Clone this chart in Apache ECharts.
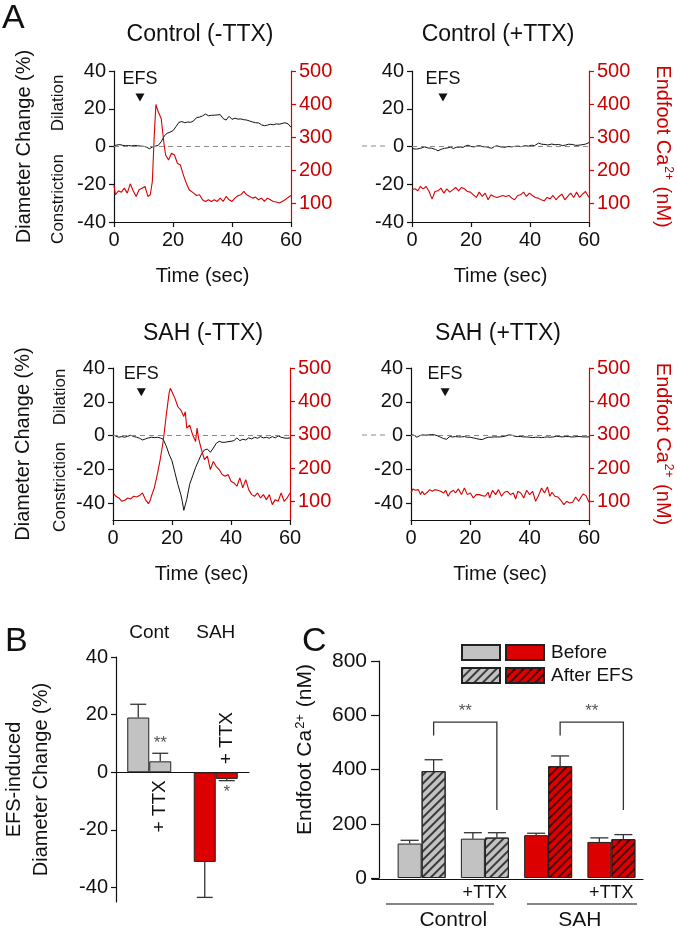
<!DOCTYPE html>
<html><head><meta charset="utf-8">
<script src="https://cdn.jsdelivr.net/npm/echarts@6/dist/echarts.min.js"></script>
<style>html,body{margin:0;padding:0;background:#fff}#c{width:677px;height:931px}</style>
</head><body><div id="c"></div>
<script>
// ---------------- DATA ----------------
const panelTitles = ['Control (-TTX)', 'Control (+TTX)', 'SAH (-TTX)', 'SAH (+TTX)'];
const timeTicks = [0, 20, 40, 60];
const caTicks = [100, 200, 300, 400, 500];
const diamTicks = [-40, -20, 0, 20, 40];

const ctrlMinusDiam = [[0,0.4],[1,0.8],[2,1.0],[3,0.6],[4,0.4],[5,0.5],[6,0.3],[7,0.6],[8,0.4],[9,0.2],[10,0.1],[11,-0.3],[12,-1.2],[13,-0.3],[14,0.2],[15,0.6],[16,2.5],[17,5.5],[18,7.0],[19,7.6],[20,8.4],[21,10.5],[22,12.8],[23,13.2],[24,12.6],[25,13.0],[26,12.8],[27,13.6],[28,15.3],[29,15.6],[30,16.2],[31,17.2],[32,16.3],[33,16.5],[34,16.6],[35,16.7],[36,16.9],[37,14.8],[38,14.0],[39,16.0],[40,14.4],[41,15.0],[42,14.5],[43,14.6],[44,14.2],[45,14.0],[46,13.5],[47,13.0],[48,12.6],[49,12.5],[50,11.5],[51,11.0],[52,11.3],[53,11.8],[54,11.5],[55,12.0],[56,11.8],[57,12.2],[58,12.6],[59,12.0],[60,10.2]];
const ctrlMinusCa = [[0,155],[0.5,127],[1.5,139],[2.5,135],[3.5,147],[4.5,132],[5.5,160],[6.5,139],[7.5,122],[8.5,142],[9.5,147],[10.5,152],[11.5,122],[12.3,127],[13,167],[13.6,297],[14.2,399],[15,377],[16,357],[16.5,317],[17,277],[17.5,247],[18.5,232],[19.5,252],[20.5,247],[21.5,222],[22.5,217],[23.5,187],[24.5,162],[25.5,142],[27,132],[28,125],[29,127],[30,112],[31,107],[32,112],[33,107],[34,112],[35,107],[36,117],[37,107],[38,122],[39,112],[40,107],[41,117],[42,124],[43,127],[44,137],[45,127],[46,122],[47,117],[48,120],[49,112],[50,117],[51,107],[52,117],[53,112],[54,107],[55,105],[56,102],[57,107],[58,112],[59,119],[60,125]];

const ctrlPlusDiam = [[0,-1.1],[1.5,-1.4],[3,-0.9],[4.3,-0.2],[5.5,-0.8],[6.6,-0.9],[8,-1.6],[8.8,-2.3],[10,-1.4],[11,-1.0],[12.2,-0.7],[13,-0.3],[14,-1.1],[15,-0.4],[15.6,0.4],[16.5,-0.3],[17.3,-0.5],[18,0.2],[19,0.7],[20,0.0],[21.3,-0.2],[22,0.3],[23,0.4],[24,-0.1],[25.3,-0.2],[26,-0.6],[27,-0.9],[28,0.0],[28.7,0.4],[30,-0.2],[31.5,-0.4],[32.5,0.0],[33.8,-0.2],[35,0.1],[36,0.2],[37,-0.1],[38.3,0.4],[39.5,0.2],[40.6,0.7],[41.5,0.4],[42.9,1.8],[44,1.2],[45.1,1.1],[46,0.8],[47.4,1.3],[48.5,0.9],[49.7,1.1],[51,0.5],[52,0.7],[53,1.2],[54.3,1.1],[55.5,0.6],[56.6,0.7],[58,1.0],[58.9,1.3],[60,2.1]];
const ctrlPlusCa = [[0,142],[1,145],[2,139],[2.8,152],[3.8,145],[4.8,152],[5.8,137],[6.8,114],[7.8,137],[8.8,139],[9.8,147],[10.8,132],[11.8,145],[12.8,135],[13.8,142],[14.8,149],[15.8,139],[16.8,149],[17.8,145],[18.8,137],[19.8,135],[20.8,127],[21.8,119],[22.8,135],[23.8,122],[24.8,132],[25.8,112],[26.8,127],[27.8,122],[28.8,119],[29.8,122],[30.8,125],[31.8,122],[32.8,125],[33.8,117],[34.8,112],[35.8,125],[36.8,127],[37.8,135],[38.8,122],[39.8,132],[40.8,125],[41.8,119],[42.8,117],[43.8,112],[44.8,109],[45.8,119],[46.8,115],[47.8,125],[48.8,112],[49.8,122],[50.8,129],[51.8,112],[52.8,122],[53.8,132],[54.8,119],[55.8,135],[56.8,119],[57.8,129],[58.8,137],[60,119]];

const sahMinusDiam = [[0,0.6],[1,-0.4],[2,-1],[3,-0.6],[4,-1],[5,-0.4],[6,0.2],[7,-0.6],[8,-1],[9,-1.6],[10,-2.6],[11,-2],[12,-1.4],[13,-1],[14,-1.2],[15,-1],[16,-1.4],[17,-2.2],[18,-6],[19,-11],[20,-15],[21,-22],[22,-29],[23,-35],[23.5,-39],[24,-44.3],[25,-37.8],[26,-28.8],[27,-23.9],[28,-18.9],[29,-14.9],[30,-10.9],[31,-8.5],[32,-8],[33,-9.9],[34,-7.4],[35,-4.6],[36,-3.4],[37,-4],[38,-4],[39,-3.6],[40,-3.4],[41,-3],[42,-1.4],[43,-3],[44,-2.2],[45,-2.6],[46,-1.4],[47,-2],[48,-1],[49,-1.6],[50,-0.6],[51,-1.4],[52,-1],[53,-1.6],[54,-0.6],[55,-1.4],[56,-0.2],[57,-1],[58,-1.4],[59,-1.6],[60,-1.4]];
const sahMinusCa = [[0,126],[1,116],[2,111],[3,101],[4,104],[5,111],[6,108],[7,116],[8,114],[9,118],[10,126],[11,106],[12,94],[12.5,101],[13,116],[14,141],[15,181],[16,226],[17,280],[18,355],[19,424],[19.4,439],[20,429],[21,409],[22,384],[23,374],[24,355],[24.5,369],[25,320],[26,329],[27,300],[28,280],[28.5,320],[29,290],[30,255],[31,226],[32,236],[33,196],[34,220],[35,205],[36,196],[37,181],[38,176],[39,181],[40,161],[41,156],[42,146],[43,171],[44,141],[45,166],[46,136],[47,121],[48,116],[49,126],[50,111],[51,121],[52,106],[53,121],[54,91],[55,106],[56,101],[57,126],[58,101],[59,111],[60,126]];

const sahPlusDiam = [[0,0.6],[1,0.2],[2,-1],[3,0],[4,0.4],[5,0.2],[6,0.4],[7,0.6],[8,0.4],[9,-0.2],[10,-1],[11,-1.8],[12,-2.2],[13,-0.6],[14,-0.8],[15,-0.6],[16,-0.8],[17,-0.8],[18,-0.6],[19,-1],[20,-1],[21,-1.4],[22,-1.8],[23,-2.2],[24,-2.4],[25,-1.6],[26,-1],[27,-1],[28,-0.8],[29,-0.8],[30,-0.8],[31,-0.6],[32,-0.2],[33,0.4],[34,0.2],[35,-0.4],[36,-0.6],[37,-0.6],[38,-0.8],[39,-0.8],[40,-1],[41,-1.2],[42,-1],[43,-1],[44,-1.2],[45,-1],[46,-0.8],[47,-1],[48,-0.8],[49,-0.4],[50,-0.6],[51,-0.8],[52,-0.6],[53,-0.6],[54,-0.8],[55,-0.8],[56,-0.6],[57,-0.6],[58,-0.8],[59,-0.8],[60,-0.8]];
const sahPlusCa = [[0,126],[0.6,138],[1.5,134],[2.5,136],[3.2,121],[3.8,131],[4.5,121],[5.5,128],[6.3,136],[7.2,131],[8,136],[9,134],[10,131],[11,126],[11.7,134],[12.5,116],[13.3,128],[14.3,134],[15,126],[16,138],[17,121],[18,141],[19,121],[20,126],[21,111],[22,121],[23,121],[24,118],[25,116],[25.5,111],[26,128],[26.5,111],[27.5,134],[28.5,121],[29.5,136],[30.5,116],[31.5,128],[32.5,131],[33.5,121],[34.5,126],[35.3,108],[36,131],[37,126],[38,111],[39,134],[40,121],[41,131],[42,101],[43,118],[44,141],[45,126],[46,144],[46.8,116],[47.5,128],[48.5,116],[49.5,114],[50.5,104],[51.5,91],[52.5,101],[53.5,96],[54.5,98],[55.5,114],[56.5,101],[57.5,116],[58,123],[59,118],[60,98]];

const efsTime = [8.8, 10.5, 9.6, 11.5];
const efsLevel = [26, 26, 25.6, 25.6];

// Panel B
const bGroups = ['Cont', 'SAH'];
const bNoTTX = [19.0, -31.1];
const bNoTTXErr = [4.6, 12.3];
const bTTX = [3.8, -2.3];
const bTTXErr = [2.8, 0.6];
const bTTXSig = ['**', '*'];

// Panel C
const cCategories = ['Control', 'Control +TTX', 'SAH', 'SAH +TTX'];
const cGroupOf = ['Control', 'Control', 'SAH', 'SAH'];
const cGroupNames = ['Control', 'SAH'];
const cBefore = [127, 145, 158, 133];
const cBeforeErr = [12, 22, 7, 15];
const cAfter = [394, 149, 412, 143];
const cAfterErr = [42, 18, 38, 17];
const cBracketFrom = [0, 2];
const cBracketTo = [1, 3];
const cBracketLeft = [525, 525];
const cBracketTop = [575, 575];
const cBracketRight = [251, 251];
const cBracketSig = ['**', '**'];

// ---------------- STYLE ----------------
const FONT = 'Liberation Sans, Arial, Helvetica, sans-serif';
const INK = '#111';
const RED = '#d80000';
const RED_TXT = '#cc0000';
const GRAY = '#c2c2c2';
const BAR_RED = '#dd0000';

const diamData = [ctrlMinusDiam, ctrlPlusDiam, sahMinusDiam, sahPlusDiam];
const caData = [ctrlMinusCa, ctrlPlusCa, sahMinusCa, sahPlusCa];
const gridsA = [
  {left:114, top:71, width:177, height:151},
  {left:412, top:71, width:177, height:151},
  {left:113, top:368, width:177, height:152},
  {left:411, top:368, width:178, height:152}
];
const diamMin = [-40, -40, -50, -50];

const grid = gridsA.concat([
  {left:114, top:657, width:135, height:245},  // B
  {left:390, top:661, width:253, height:218},  // C
  {left:372, top:661, width:271, height:218}   // C baseline
]);

const xAxis = [], yAxis = [], series = [];
const lineAx = {show:true, onZero:false, lineStyle:{color:INK, width:1.2}};
const tickAx = {show:true, length:5, lineStyle:{color:INK, width:1.2}};

for (let p = 0; p < 4; p++) {
  xAxis.push({type:'value', gridIndex:p, min:0, max:60, interval:20,
    axisLine:lineAx, axisTick:tickAx, splitLine:{show:false},
    axisLabel:{fontSize:20, color:INK, margin:8, customValues:timeTicks},
    name:'Time (sec)', nameLocation:'middle', nameGap:44,
    nameTextStyle:{fontSize:20, color:INK}});
  const left = {type:'value', gridIndex:p, position:'left', min:diamMin[p], max:40,
    axisLine:lineAx, axisTick:Object.assign({customValues:diamTicks}, tickAx), splitLine:{show:false},
    axisLabel:{fontSize:20, color:INK, margin:8, customValues:diamTicks}};
  if (p % 2 === 0) {
    Object.assign(left, {name:'Diameter Change (%)', nameLocation:'middle', nameGap:80,
      nameTextStyle:{fontSize:20, color:INK}});
  }
  yAxis.push(left);
  const right = {type:'value', gridIndex:p, position:'right', min:45, max:500,
    axisLine:{show:true, onZero:false, lineStyle:{color:RED, width:1.2}},
    axisTick:{show:true, length:5, lineStyle:{color:RED, width:1.2}, customValues:caTicks},
    splitLine:{show:false},
    axisLabel:{fontSize:20, color:RED_TXT, margin:8, customValues:caTicks}};
  if (p % 2 === 1) {
    Object.assign(right, {name:'{n|Endfoot Ca}{s|2+}{n| (nM)}', nameLocation:'middle', nameGap:63, nameRotate:-90,
      nameTextStyle:{color:RED_TXT, rich:{n:{fontSize:20, color:RED_TXT, fontFamily:FONT},
        s:{fontSize:12, color:RED_TXT, fontFamily:FONT, verticalAlign:'top', padding:[0,1,10,1]}}}});
  }
  yAxis.push(right);

  series.push({type:'line', name:'diam'+p, xAxisIndex:p, yAxisIndex:2*p, data:diamData[p],
    symbol:'none', lineStyle:{color:INK, width:1}, z:3,
    markLine:{silent:true, symbol:'none', label:{show:false},
      lineStyle:{type:[5,4], color:'#8a8a8a', width:1.2}, data:[{yAxis:0}]}});
  series.push({type:'line', name:'ca'+p, xAxisIndex:p, yAxisIndex:2*p+1, data:caData[p],
    symbol:'none', lineStyle:{color:RED, width:1.1}, z:4});
  series.push({type:'scatter', name:'efs'+p, xAxisIndex:p, yAxisIndex:2*p,
    data:[[efsTime[p], efsLevel[p]]], symbol:'triangle', symbolRotate:180, symbolSize:[9,8],
    itemStyle:{color:INK, opacity:1}, z:5,
    label:{show:true, formatter:'EFS', position:'top', distance:5, fontSize:18, color:INK, opacity:1}});
}

// ---- Panel B axes (x 4,5 ; y 8)
xAxis.push({type:'category', gridIndex:4, data:bGroups,
  axisLine:{show:true, onZero:true, lineStyle:{color:INK, width:1.2}},
  axisTick:{show:false}, axisLabel:{show:false}});
xAxis.push({type:'category', gridIndex:4, data:bGroups, position:'top',
  axisLine:{show:false, onZero:false}, axisTick:{show:false},
  axisLabel:{fontSize:19, color:INK, margin:15}});
yAxis.push({type:'value', gridIndex:4, min:-45, max:40,
  axisLine:lineAx, axisTick:Object.assign({customValues:diamTicks}, tickAx), splitLine:{show:false},
  axisLabel:{fontSize:20, color:INK, margin:8, customValues:diamTicks},
  name:'EFS-induced\nDiameter Change (%)', nameLocation:'middle', nameGap:61,
  nameTextStyle:{fontSize:20, color:INK, lineHeight:27}});

// ---- Panel C axes (x 6,7 ; y 9) + baseline (x 8, y 10)
xAxis.push({type:'category', gridIndex:5, data:cCategories,
  axisLine:{show:false, onZero:false}, axisTick:{show:false},
  axisLabel:{fontSize:18, color:INK, margin:6,
    formatter: v => v.indexOf('+TTX') >= 0 ? '+TTX' : ''}});
xAxis.push({type:'category', gridIndex:5, data:cGroupNames, position:'bottom', offset:27,
  axisLine:{show:false, onZero:false}, axisTick:{show:false},
  axisLabel:{fontSize:21, color:INK, margin:5}});
xAxis.push({type:'value', gridIndex:6, min:0, max:1,
  axisLine:lineAx, axisTick:{show:false}, axisLabel:{show:false}, splitLine:{show:false}});
yAxis.push({type:'value', gridIndex:5, min:0, max:800, interval:200, offset:11,
  axisLine:lineAx, axisTick:{show:true, length:8, lineStyle:{color:INK, width:1.2}}, splitLine:{show:false},
  axisLabel:{fontSize:21, color:INK, margin:12},
  name:'{n|Endfoot Ca}{s|2+}{n| (nM)}', nameLocation:'middle', nameGap:62,
  nameTextStyle:{padding:[0,0,0,40], rich:{n:{fontSize:21, color:INK, fontFamily:FONT},
    s:{fontSize:13, color:INK, fontFamily:FONT, verticalAlign:'top', padding:[0,1,10,1]}}}});
yAxis.push({type:'value', gridIndex:6, min:0, max:800, show:false});

// ---- Panel B series
const bColors = [GRAY, BAR_RED];
const barEdge = {borderColor:'#222', borderWidth:1};
series.push({type:'bar', name:'-TTX', xAxisIndex:4, yAxisIndex:8, barWidth:22, barGap:'0%',
  itemStyle:barEdge, z:2,
  data:bNoTTX.map((v,i)=>({value:v, itemStyle:{color:bColors[i]}}))});
series.push({type:'bar', name:'+TTX', xAxisIndex:4, yAxisIndex:8, barWidth:22, barGap:'0%',
  itemStyle:barEdge, z:2,
  label:{show:true, formatter:'+ TTX', rotate:90, verticalAlign:'middle', distance:8, fontSize:19, color:INK},
  data:bTTX.map((v,i)=>({value:v, itemStyle:{color:bColors[i]},
    label: v >= 0 ? {position:'bottom', align:'right'} : {position:'top', align:'left'}}))});

function errRender(offset, capHalf, sigArr) {
  return function (params, api) {
    const i = api.value(0), m = api.value(1), e = api.value(2);
    const s = m >= 0 ? 1 : -1;
    const a = api.coord([i, m]);
    const b = api.coord([i, m + s * e]);
    const x = a[0] + offset;
    const st = {stroke:'#333', lineWidth:1.3};
    const ch = [
      {type:'line', shape:{x1:x, y1:a[1], x2:x, y2:b[1]}, style:st},
      {type:'line', shape:{x1:x-capHalf, y1:b[1], x2:x+capHalf, y2:b[1]}, style:st}
    ];
    if (sigArr && sigArr[params.dataIndex]) {
      ch.push({type:'text', style:{text:sigArr[params.dataIndex], x:x, y: s > 0 ? b[1] - 1 : b[1] + 3,
        align:'center', verticalAlign: s > 0 ? 'bottom' : 'top', fontSize:17, fontFamily:FONT, fill:'#555'}});
    }
    return {type:'group', children:ch};
  };
}
series.push({type:'custom', name:'errB0', xAxisIndex:4, yAxisIndex:8, z:3,
  renderItem:errRender(-11, 8), data:bNoTTX.map((v,i)=>[i, v, bNoTTXErr[i]])});
series.push({type:'custom', name:'errB1', xAxisIndex:4, yAxisIndex:8, z:3,
  renderItem:errRender(11, 8, bTTXSig), data:bTTX.map((v,i)=>[i, v, bTTXErr[i]])});

// ---- Panel C series
const BW = 24;
const hatchGray = {symbol:'rect', symbolSize:1, dashArrayX:[1,0], dashArrayY:[1.4,3.2], rotation:-Math.PI/4, color:'#3a3a3a'};
const hatchRed = {symbol:'rect', symbolSize:1, dashArrayX:[1,0], dashArrayY:[1.4,3.2], rotation:-Math.PI/4, color:'#4a0000'};
function pick(arr, grp) { return arr.map((v,i)=> cGroupOf[i] === grp ? v : '-'); }
series.push({type:'bar', name:'Control Before', stack:'before', xAxisIndex:6, yAxisIndex:9, barWidth:BW, barGap:'0%',
  itemStyle:{color:GRAY, borderColor:'#222', borderWidth:1}, data:pick(cBefore,'Control')});
series.push({type:'bar', name:'Control After EFS', stack:'after', xAxisIndex:6, yAxisIndex:9, barWidth:BW, barGap:'0%',
  itemStyle:{color:GRAY, borderColor:'#222', borderWidth:1, decal:hatchGray}, data:pick(cAfter,'Control')});
series.push({type:'bar', name:'SAH Before', stack:'before', xAxisIndex:6, yAxisIndex:9, barWidth:BW, barGap:'0%',
  itemStyle:{color:BAR_RED, borderColor:'#222', borderWidth:1}, data:pick(cBefore,'SAH')});
series.push({type:'bar', name:'SAH After EFS', stack:'after', xAxisIndex:6, yAxisIndex:9, barWidth:BW, barGap:'0%',
  itemStyle:{color:BAR_RED, borderColor:'#222', borderWidth:1, decal:hatchRed}, data:pick(cAfter,'SAH')});
series.push({type:'custom', name:'errC0', xAxisIndex:6, yAxisIndex:9, z:3,
  renderItem:errRender(-BW/2, 9), data:cBefore.map((v,i)=>[i, v, cBeforeErr[i]])});
series.push({type:'custom', name:'errC1', xAxisIndex:6, yAxisIndex:9, z:3,
  renderItem:errRender(BW/2, 9), data:cAfter.map((v,i)=>[i, v, cAfterErr[i]])});
series.push({type:'custom', name:'brackets', xAxisIndex:6, yAxisIndex:9, z:3,
  renderItem:function (params, api) {
    const f = api.value(0), t = api.value(1);
    const p1 = api.coord([f, api.value(2)]), p2 = api.coord([f, api.value(3)]);
    const p3 = api.coord([t, api.value(3)]), p4 = api.coord([t, api.value(4)]);
    const o = BW/2;
    return {type:'group', children:[
      {type:'polyline', shape:{points:[[p1[0]+o,p1[1]],[p2[0]+o,p2[1]],[p3[0]+o,p3[1]],[p4[0]+o,p4[1]]]},
        style:{stroke:'#333', lineWidth:1.3, fill:null}},
      {type:'text', style:{text:cBracketSig[params.dataIndex], x:(p2[0]+p3[0])/2+o, y:p2[1]-2,
        align:'center', verticalAlign:'bottom', fontSize:17, fontFamily:FONT, fill:'#555'}}
    ]};
  },
  data:cBracketFrom.map((f,i)=>[f, cBracketTo[i], cBracketLeft[i], cBracketTop[i], cBracketRight[i]])});

// ---------------- OPTION ----------------
const titleCenters = [[200, 23], [498, 23], [203, 322], [498, 322]];
const option = {
  animation:false,
  backgroundColor:'#fff',
  textStyle:{fontFamily:FONT},
  title: panelTitles.map((t,i)=>({text:t, left:titleCenters[i][0], top:titleCenters[i][1], textAlign:'center', padding:0,
    textStyle:{fontSize:23, fontWeight:'normal', color:INK, fontFamily:FONT}})),
  legend:[
    {data:['Control Before','SAH Before'], left:461, top:643, icon:'rect', itemWidth:38, itemHeight:15, itemGap:4,
      selectedMode:false, padding:0, formatter:n => n === 'SAH Before' ? 'Before' : '',
      textStyle:{fontSize:19, color:INK, padding:[0,0,0,2]}},
    {data:['Control After EFS','SAH After EFS'], left:461, top:666, icon:'rect', itemWidth:38, itemHeight:15, itemGap:4,
      selectedMode:false, padding:0, formatter:n => n === 'SAH After EFS' ? 'After EFS' : '',
      textStyle:{fontSize:19, color:INK, padding:[0,0,0,2]}}
  ],
  grid: grid,
  xAxis: xAxis,
  yAxis: yAxis,
  series: series,
  graphic:[
    {type:'text', x:2, y:19, style:{text:'A', fontSize:34, fill:INK, fontFamily:FONT, verticalAlign:'middle'}},
    {type:'text', x:5, y:642, style:{text:'B', fontSize:34, fill:INK, fontFamily:FONT, verticalAlign:'middle'}},
    {type:'text', x:302, y:642, style:{text:'C', fontSize:34, fill:INK, fontFamily:FONT, verticalAlign:'middle'}},
    {type:'text', x:58, y:103, rotation:Math.PI/2, style:{text:'Dilation', fontSize:17, fill:INK, fontFamily:FONT, align:'center', verticalAlign:'middle'}},
    {type:'text', x:58, y:199, rotation:Math.PI/2, style:{text:'Constriction', fontSize:17, fill:INK, fontFamily:FONT, align:'center', verticalAlign:'middle'}},
    {type:'text', x:60, y:397, rotation:Math.PI/2, style:{text:'Dilation', fontSize:17, fill:INK, fontFamily:FONT, align:'center', verticalAlign:'middle'}},
    {type:'text', x:60, y:487, rotation:Math.PI/2, style:{text:'Constriction', fontSize:17, fill:INK, fontFamily:FONT, align:'center', verticalAlign:'middle'}},
    {type:'line', shape:{x1:362, y1:146, x2:387, y2:146}, style:{stroke:'#8a8a8a', lineWidth:1.2, lineDash:[5,4]}},
    {type:'line', shape:{x1:362, y1:435, x2:387, y2:435}, style:{stroke:'#8a8a8a', lineWidth:1.2, lineDash:[5,4]}},
    {type:'line', shape:{x1:386, y1:904, x2:494, y2:904}, style:{stroke:INK, lineWidth:1.2}},
    {type:'line', shape:{x1:527, y1:904, x2:637, y2:904}, style:{stroke:INK, lineWidth:1.2}}
  ]
};
const chart = echarts.init(document.getElementById('c'), null, {renderer:'canvas'});
chart.setOption(option);
</script></body></html>
